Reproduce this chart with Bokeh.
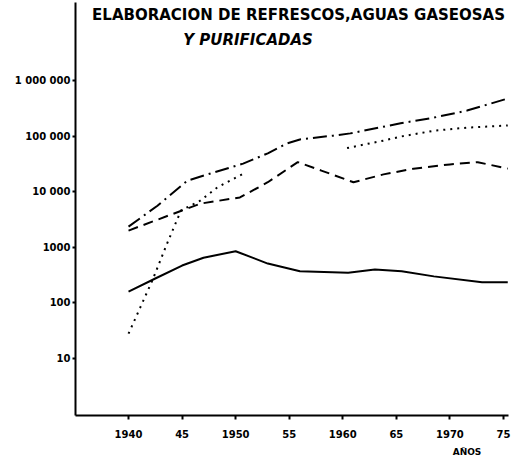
import math
from bokeh.plotting import figure
from bokeh.models import Range1d, FixedTicker, LinearAxis
from bokeh.core.properties import value
from bokeh.embed import file_html
from bokeh.resources import INLINE

NAN = float("nan")

# Data
solid_years = [1940, 1942.5, 1945, 1947, 1950, 1953, 1956, 1960.5, 1963, 1965.5, 1968.5, 1973, 1975.4]
solid_vals = [160, 275, 470, 650, 850, 510, 370, 350, 400, 370, 300, 235, 235]

dashed_years = [1940, 1945, 1946.7, 1950.4, 1953, 1955.8, 1958, 1961, 1963.8, 1966.6, 1970, 1972.6, 1975.4]
dashed_vals = [2000, 4600, 6100, 7900, 14800, 34000, 24000, 14800, 20500, 26000, 31000, 34000, 26000]

dashdot_years = [1940, 1942.7, 1945.5, 1947.9, 1950.7, 1953, 1954.8, 1956, 1959.1, 1960.7, 1965.4, 1968.5, 1971.6, 1975.4]
dashdot_vals = [2350, 5600, 15800, 22000, 32000, 49000, 74000, 87000, 102000, 112000, 170000, 215000, 288000, 474000]

dotted_years = [1940, 1941.1, 1942.3, 1943.6, 1944.9, 1946.7, 1948.3, 1950.7, 1955, 1960.4, 1963.8, 1965.4, 1968.5, 1971.6, 1975.4]
dotted_vals = [28, 83, 275, 1170, 4600, 6900, 12000, 21000, NAN, 61000, 83000, 98000, 125000, 142000, 155000]

y_ticks = [10, 100, 1000, 10000, 100000, 1000000]
y_tick_labels = ["10", "100", "1000", "10 000", "100 000", "1 000 000"]
x_ticks = [1940, 1945, 1950, 1955, 1960, 1965, 1970, 1975]
x_tick_labels = ["1940", "45", "1950", "55", "1960", "65", "1970", "75"]

title1 = "ELABORACION DE REFRESCOS,AGUAS GASEOSAS"
title2 = "Y PURIFICADAS"
x_title = "AÑOS"

p = figure(width=515, height=460, y_axis_type="log",
           x_range=Range1d(1935.05, 1975.47), y_range=Range1d(0.944, 2.53e7),
           output_backend="svg", toolbar_location=None,
           min_border_left=75, min_border_right=7, min_border_top=2, min_border_bottom=45)
p.outline_line_color = None
p.xgrid.visible = False
p.ygrid.visible = False
p.background_fill_color = "white"

font = "DejaVu Sans"

# axes
p.yaxis.ticker = FixedTicker(ticks=y_ticks)
p.yaxis.major_label_overrides = dict(zip(y_ticks, y_tick_labels))
p.xaxis.ticker = FixedTicker(ticks=x_ticks)
p.xaxis.major_label_overrides = dict(zip(x_ticks, x_tick_labels))
for ax in (p.xaxis, p.yaxis):
    ax.axis_line_width = 2
    ax.axis_line_color = "black"
    ax.major_tick_line_width = 2
    ax.major_tick_line_color = "black"
    ax.major_tick_in = 0
    ax.major_tick_out = 4
    ax.minor_tick_line_color = None
    ax.major_label_text_font = font
    ax.major_label_text_font_style = "bold"
    ax.major_label_text_color = "black"
p.yaxis.major_label_text_font_size = "10px"
p.yaxis.major_label_standoff = 2
p.yaxis.major_tick_out = 3
p.xaxis.major_label_text_font_size = "10px"
p.xaxis.major_label_standoff = 10

anos = LinearAxis(ticker=FixedTicker(ticks=[1971.6]),
                  major_label_overrides={1971.6: x_title})
anos.axis_line_color = None
anos.major_tick_line_color = None
anos.minor_tick_line_color = None
anos.major_label_standoff = 0
anos.major_label_text_font = font
anos.major_label_text_font_style = "bold"
anos.major_label_text_font_size = "9px"
anos.major_label_text_color = "black"
p.add_layout(anos, "below")

# lines
p.line(solid_years, solid_vals, line_color="black", line_width=2)
p.line(dashed_years, dashed_vals, line_color="black", line_width=2, line_dash="10 6")
p.line(dashdot_years, dashdot_vals, line_color="black", line_width=2, line_dash="14 5 2 5")
p.line(dotted_years, dotted_vals, line_color="black", line_width=2, line_dash="2 5")

# title inside plot area
p.text(x=[1936.6], y=[1.48e7], text=[title1], text_font=value(font),
       text_font_style="bold", text_font_size="15px", text_color="black",
       text_align="left", text_baseline="middle")
p.text(x=[1945.1], y=[5.25e6], text=[title2], text_font=value(font),
       text_font_style="bold italic", text_font_size="15px", text_color="black",
       text_align="left", text_baseline="middle")

open("out.html", "w").write(file_html(p, INLINE))
